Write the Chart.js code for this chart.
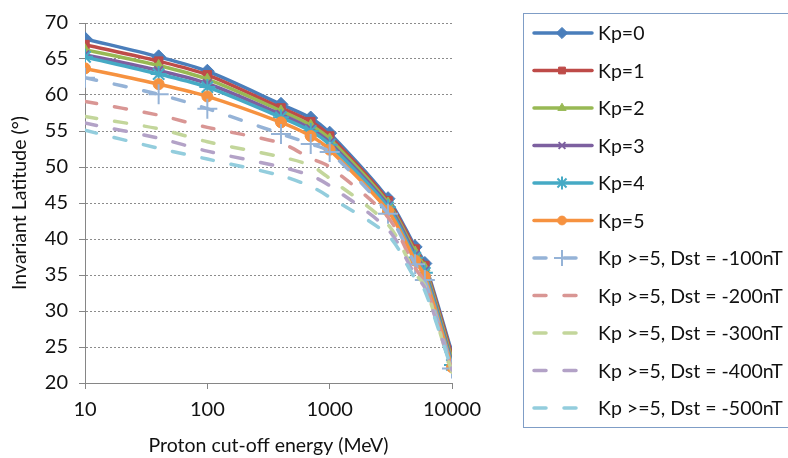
<!DOCTYPE html>
<html>
<head>
<meta charset="utf-8">
<script src="https://cdn.jsdelivr.net/npm/chart.js@4/dist/chart.umd.min.js"></script>
<style>
    html, body { margin: 0; padding: 0; background: #ffffff; }
    #wrap { width: 788px; height: 458px; }
</style>
</head>
<body>
<div id="wrap"><canvas id="cutoffChart" width="788" height="458"></canvas></div>
<script>
// Proton cut-off energy vs invariant latitude

const energies = [10, 40, 100, 400, 700, 1000, 3000, 5000, 6000, 10000];
const xTicks = [10, 100, 1000, 10000];

const kp0 = [67.8, 65.3, 63.3, 58.7, 56.8, 54.7, 45.6, 38.9, 36.6, 24.2];
const kp1 = [67.0, 64.7, 62.8, 58.2, 56.3, 54.3, 45.3, 38.6, 36.3, 23.8];
const kp2 = [66.3, 64.1, 62.2, 57.8, 55.8, 53.9, 45.0, 38.2, 36.0, 23.3];
const kp3 = [65.6, 63.4, 61.6, 57.3, 55.3, 53.4, 44.7, 37.8, 35.6, 22.8];
const kp4 = [65.3, 62.9, 61.1, 56.9, 55.0, 53.1, 44.4, 37.4, 35.3, 22.5];
const kp5 = [63.7, 61.5, 59.8, 56.2, 54.3, 52.4, 43.9, 37.0, 34.8, 22.2];
const dst100 = [62.4, 60.1, 58.1, 54.6, 53.2, 52.1, 43.5, 36.5, 34.3, 22.0];
const dst200 = [59.1, 57.2, 55.5, 53.3, 51.2, 50.0, 43.0, 36.0, 33.9, 21.8];
const dst300 = [57.0, 55.3, 53.5, 51.4, 50.2, 48.4, 42.0, 35.2, 33.5, 21.5];
const dst400 = [56.1, 54.0, 52.2, 50.0, 48.8, 47.4, 41.3, 35.0, 33.2, 21.8];
const dst500 = [55.1, 52.6, 51.1, 48.8, 47.3, 45.8, 40.5, 34.5, 32.8, 21.8];

const seriesNames = ['Kp=0', 'Kp=1', 'Kp=2', 'Kp=3', 'Kp=4', 'Kp=5',
    'Kp >=5, Dst = -100nT', 'Kp >=5, Dst = -200nT', 'Kp >=5, Dst = -300nT',
    'Kp >=5, Dst = -400nT', 'Kp >=5, Dst = -500nT'];
const seriesValues = [kp0, kp1, kp2, kp3, kp4, kp5, dst100, dst200, dst300, dst400, dst500];

const styles = [
    { color: '#4a7ebb', point: 'rectRot', r: 7 },
    { color: '#be4b48', point: 'rect', r: 6 },
    { color: '#98b954', point: 'triangle', r: 6 },
    { color: '#7d60a0', point: 'crossRot', r: 6 },
    { color: '#46aac5', point: 'star', r: 8 },
    { color: '#f69240', point: 'circle', r: 5.5 },
    { color: '#95b3d7', point: 'cross', r: 10, dash: true },
    { color: '#d99694', point: false, r: 0, dash: true },
    { color: '#c3d69b', point: false, r: 0, dash: true },
    { color: '#b3a2c7', point: false, r: 0, dash: true },
    { color: '#93cddd', point: false, r: 0, dash: true }
];

const DASH = [12, 18];
const FONT = 'Lato, "Open Sans", sans-serif';
const TEXT = '#111111';

const datasets = seriesNames.map((name, i) => {
    const s = styles[i];
    const thin = s.point === 'crossRot' || s.point === 'star' || s.point === 'cross';
    return {
        label: name,
        data: energies.map((e, j) => ({ x: e, y: seriesValues[i][j] })),
        borderColor: s.color,
        backgroundColor: s.color,
        borderWidth: 3.5,
        borderDash: s.dash ? DASH : [],
        borderCapStyle: 'round',
        borderJoinStyle: 'round',
        tension: 0.3,
        pointStyle: s.point,
        pointRadius: s.r,
        pointHoverRadius: s.r,
        pointBorderWidth: thin ? 2 : 1,
        order: seriesNames.length - i
    };
});

// Legend drawn inside the canvas, Excel style (line sample with marker)
const sideLegend = {
    id: 'sideLegend',
    afterDraw(chart) {
        const ctx = chart.ctx;
        const sets = chart.data.datasets;
        ctx.save();
        ctx.strokeStyle = '#7f9dc6';
        ctx.lineWidth = 1;
        ctx.strokeRect(523.5, 13.5, 300, 414);

        sets.forEach((ds, i) => {
            const y = 33 + i * 37.5;
            ctx.save();
            ctx.strokeStyle = ds.borderColor;
            ctx.lineWidth = 3.5;
            ctx.lineCap = 'round';
            ctx.setLineDash(ds.borderDash);
            ctx.beginPath();
            ctx.moveTo(534, y);
            ctx.lineTo(ds.borderDash.length ? 580 : 592, y);
            ctx.stroke();
            ctx.restore();

            if (ds.pointStyle) {
                ctx.save();
                ctx.fillStyle = ds.backgroundColor;
                ctx.strokeStyle = ds.borderColor;
                ctx.lineWidth = ds.pointBorderWidth;
                Chart.helpers.drawPoint(ctx, {
                    pointStyle: ds.pointStyle,
                    radius: ds.pointRadius * 0.8,
                    rotation: 0,
                    borderWidth: ds.pointBorderWidth
                }, 562, y);
                ctx.restore();
            }

            ctx.fillStyle = TEXT;
            ctx.font = '19.5px ' + FONT;
            ctx.textBaseline = 'middle';
            ctx.fillText(ds.label, 598, y + 1);
        });
        ctx.restore();
    }
};

new Chart(document.getElementById('cutoffChart'), {
    type: 'line',
    data: { datasets: datasets },
    plugins: [sideLegend],
    options: {
        responsive: false,
        animation: false,
        events: [],
        layout: { padding: { left: 0, top: 20, right: 336, bottom: 0 } },
        plugins: {
            legend: { display: false },
            tooltip: { enabled: false }
        },
        scales: {
            x: {
                type: 'logarithmic',
                min: 10,
                max: 10000,
                afterBuildTicks: scale => {
                    scale.ticks = xTicks.map(v => ({ value: v }));
                },
                afterFit: scale => { scale.height = 75; },
                ticks: {
                    color: TEXT,
                    font: { family: FONT, size: 20 },
                    padding: 9,
                    maxRotation: 0,
                    callback: v => String(v)
                },
                grid: {
                    drawOnChartArea: false,
                    tickLength: 6,
                    tickColor: '#868686'
                },
                border: { color: '#868686', width: 1 },
                title: {
                    display: true,
                    text: 'Proton cut-off energy (MeV)',
                    color: TEXT,
                    font: { family: FONT, size: 19.5 },
                    padding: { top: 0, bottom: 1 }
                }
            },
            y: {
                min: 20,
                max: 70,
                afterFit: scale => { scale.width = 85; },
                ticks: {
                    stepSize: 5,
                    color: TEXT,
                    font: { family: FONT, size: 20 },
                    padding: 11
                },
                grid: {
                    color: '#8c8c8c',
                    tickColor: '#868686',
                    tickLength: 6,
                    tickBorderDash: []
                },
                border: { color: '#868686', width: 1, dash: [2, 2] },
                title: {
                    display: true,
                    text: 'Invariant Latitude (°)',
                    color: TEXT,
                    font: { family: FONT, size: 19.5 },
                    padding: { top: 8, bottom: 0 }
                }
            }
        }
    }
});
</script>
</body>
</html>
